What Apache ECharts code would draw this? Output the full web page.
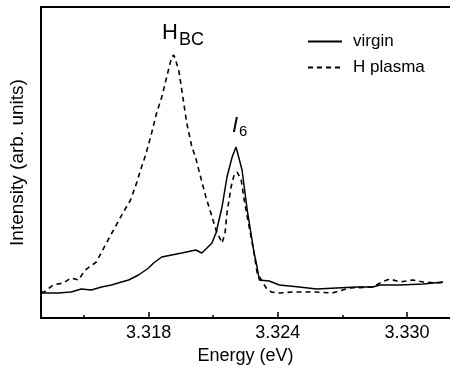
<!DOCTYPE html>
<html>
<head>
<meta charset="utf-8">
<script src="https://cdn.jsdelivr.net/npm/echarts@6/dist/echarts.min.js"></script>
<style>
  html, body { margin: 0; padding: 0; background: #fff; }
  #chart { width: 450px; height: 375px; }
</style>
</head>
<body>
<div id="chart"></div>
<script>
// energy (eV) and intensity (arb. units)
const virginE = [3.31300, 3.31380, 3.31440, 3.31487, 3.31534, 3.31581, 3.31627, 3.31674,
  3.31707, 3.31753, 3.31800, 3.31823, 3.31861, 3.31907, 3.31954, 3.32019, 3.32047,
  3.32071, 3.32094, 3.32113, 3.32141, 3.32164, 3.32188, 3.32206, 3.32234, 3.32258,
  3.32290, 3.32304, 3.32314, 3.32360, 3.32407, 3.32500, 3.32580, 3.32673, 3.32766,
  3.32841, 3.32874, 3.32967, 3.33075, 3.33168];
const virginI = [25, 25, 26, 29, 28, 31, 33, 36,
  38, 43, 50, 55, 61, 63, 65, 68, 65,
  70, 75, 85, 111, 141, 161, 171, 148, 108,
  65, 51, 38, 37, 33, 31, 29, 30, 31,
  31, 33, 33, 34, 36];

const plasmaE = [3.31300, 3.31315, 3.31356, 3.31403, 3.31440, 3.31473, 3.31506, 3.31557,
  3.31599, 3.31637, 3.31683, 3.31716, 3.31744, 3.31767, 3.31786, 3.31814, 3.31837,
  3.31861, 3.31884, 3.31907, 3.31917, 3.31940, 3.31954, 3.31977, 3.32001, 3.32019,
  3.32033, 3.32066, 3.32089, 3.32113, 3.32141, 3.32155, 3.32164, 3.32183, 3.32197,
  3.32211, 3.32230, 3.32244, 3.32267, 3.32290, 3.32304, 3.32346, 3.32370, 3.32407,
  3.32468, 3.32580, 3.32654, 3.32734, 3.32841, 3.32883, 3.32921, 3.32967, 3.33028,
  3.33075, 3.33140, 3.33177];
const plasmaI = [26, 26, 33, 35, 40, 38, 48, 56,
  73, 88, 106, 118, 135, 151, 163, 185, 205,
  221, 241, 261, 263, 248, 228, 195, 171, 160,
  148, 121, 105, 88, 75, 85, 105, 131, 143,
  146, 138, 118, 91, 65, 45, 30, 26, 25,
  26, 26, 25, 30, 31, 36, 39, 36, 38,
  36, 35, 36];

const majorTicks = [3.318, 3.324, 3.330];
const minorTicks = [3.315, 3.321, 3.327];

const FONT = "Liberation Sans";
const xMin = 3.313, xMax = 3.332;

const zip = (xs, ys) => xs.map((x, i) => [x, ys[i]]);

const chart = echarts.init(document.getElementById("chart"));
chart.setOption({
  animation: false,
  backgroundColor: "#fff",
  textStyle: { fontFamily: FONT, color: "#000" },
  grid: { left: 41, right: 0, top: 7, bottom: 57 },
  legend: {
    orient: "vertical",
    left: 302,
    top: 28,
    itemWidth: 34,
    itemHeight: 14,
    itemGap: 9,
    itemStyle: { opacity: 0 },
    textStyle: { fontFamily: FONT, fontSize: 17, color: "#000", padding: [0, 0, 0, 6] },
    data: ["virgin", "H plasma"],
  },
  xAxis: [
    {
      type: "value",
      min: xMin,
      max: xMax,
      position: "bottom",
      name: "Energy (eV)",
      nameLocation: "middle",
      nameGap: 29,
      nameTextStyle: { fontFamily: FONT, fontSize: 18, color: "#000" },
      axisLine: { lineStyle: { color: "#000", width: 2 } },
      axisTick: { inside: true, length: 6, customValues: majorTicks, lineStyle: { color: "#000", width: 1.5 } },
      axisLabel: {
        customValues: majorTicks,
        formatter: (v) => v.toFixed(3),
        fontFamily: FONT, fontSize: 18, color: "#000", margin: 6,
      },
      splitLine: { show: false },
    },
    {
      type: "value",
      min: xMin,
      max: xMax,
      position: "bottom",
      axisLine: { show: false },
      axisTick: { inside: true, length: 3, customValues: minorTicks, lineStyle: { color: "#000", width: 1.5 } },
      axisLabel: { show: false },
      splitLine: { show: false },
    },
    {
      type: "value",
      min: xMin,
      max: xMax,
      position: "top",
      axisLine: { lineStyle: { color: "#000", width: 2 } },
      axisTick: { show: false },
      axisLabel: { show: false },
      splitLine: { show: false },
    },
  ],
  yAxis: {
    type: "value",
    min: 0,
    max: 311,
    name: "Intensity (arb. units)",
    nameLocation: "middle",
    nameGap: 14,
    nameTextStyle: { fontFamily: FONT, fontSize: 19, color: "#000" },
    axisLine: { show: true, lineStyle: { color: "#000", width: 2 } },
    axisTick: { show: false },
    axisLabel: { show: false },
    splitLine: { show: false },
  },
  series: [
    {
      name: "virgin",
      type: "line",
      data: zip(virginE, virginI),
      symbol: "none",
      lineStyle: { color: "#000", width: 1.5 },
      itemStyle: { color: "#000" },
    },
    {
      name: "H plasma",
      type: "line",
      data: zip(plasmaE, plasmaI),
      symbol: "none",
      lineStyle: { color: "#000", width: 1.6, type: [5, 4] },
      itemStyle: { color: "#000" },
    },
  ],
  graphic: [
    { type: "text", left: 162, top: 22, style: { text: "H", font: `22px "${FONT}"`, fill: "#000" } },
    { type: "text", left: 179, top: 31, style: { text: "BC", font: `18px "${FONT}"`, fill: "#000" } },
    { type: "text", left: 232, top: 115, style: { text: "I", font: `italic 22px "${FONT}"`, fill: "#000" } },
    { type: "text", left: 239, top: 124, style: { text: "6", font: `15px "${FONT}"`, fill: "#000" } },
  ],
});
</script>
</body>
</html>
